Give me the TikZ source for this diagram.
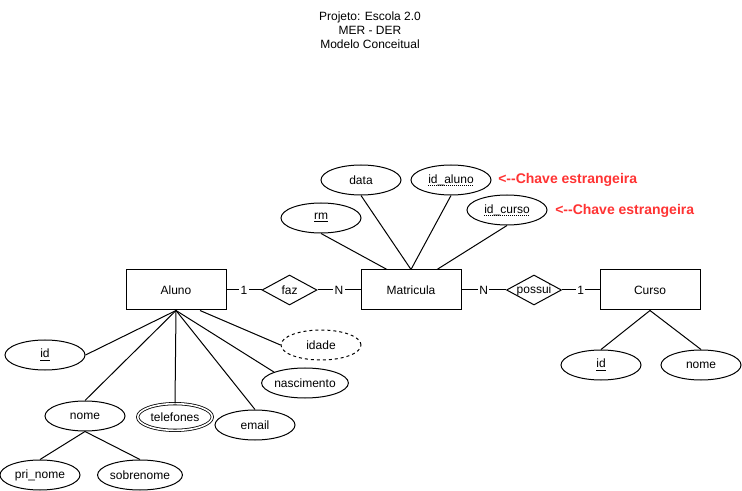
\documentclass[tikz,border=0pt]{standalone}
\usepackage{fontspec}
\setmainfont{Liberation Sans}
\usetikzlibrary{shapes.geometric,calc}
\definecolor{erInk}{HTML}{000000}
\definecolor{erRed}{HTML}{FF3333}
\tikzset{
  entity/.style  ={draw=erInk,line width=0.75pt,minimum width=75pt,
                   minimum height=30pt,inner sep=0pt},
  attr/.style    ={ellipse,draw=erInk,line width=0.75pt,minimum width=60pt,
                   minimum height=22.5pt,inner sep=0pt},
  derived/.style ={attr,dash pattern=on 2.25pt off 2.25pt},
  multi/.style   ={attr,double,double distance=1.2pt,line width=0.6pt,
                   minimum width=56pt,minimum height=20pt},
  rel/.style     ={diamond,draw=erInk,line width=0.75pt,minimum width=41.25pt,
                   minimum height=22.5pt,inner sep=0pt},
  link/.style    ={erInk,line width=0.75pt},
  card/.style    ={fill=white,inner sep=1pt},
  note/.style    ={font=\fontsize{10.5}{12}\selectfont\bfseries,text=erRed,
                   anchor=west,inner sep=0pt},
  ghost/.style   ={inner sep=0pt},
  fkline/.style  ={erInk,line width=0.75pt,dash pattern=on 0.75pt off 0.75pt},
}

\begin{document}
\begin{tikzpicture}[x=0.75pt,y=-0.75pt,font=\fontsize{9}{10.5}\selectfont]
\useasboundingbox (0,0) rectangle (742,491);

\node[align=center] (titulo) at (370,30) {Projeto: Escola 2.0\\MER - DER\\Modelo Conceitual};

% entidades e relacionamentos
\node[entity] (aluno)  at (176,290) {Aluno};
\node[rel]    (faz)    at (289.5,290) {\makebox[0pt]{faz}};
\node[entity] (matric) at (411,290) {Matricula};
\node[rel]    (possui) at (534,290) {\makebox[0pt]{possui}};
\node[entity] (curso)  at (650,290) {Curso};

\draw[link] (aluno) -- node[card]{1} (faz);
\draw[link] (faz) -- node[card]{N} (matric);
\draw[link] (matric) -- node[card]{N} (possui);
\draw[link] (possui) -- node[card]{1} (curso);

% atributos de Matricula
\node[attr] (data)    at (361,180) {data};
\node[attr] (idaluno) at (451,180) {id\_aluno};
\node[attr] (idcurso) at (507,210) {id\_curso};
\node[attr] (rm)      at (321,218) {\underline{rm}};
\node[note] (fk1) at (498,180) {<-{}-Chave estrangeira};
\node[note] (fk2) at (555,211) {<-{}-Chave estrangeira};

% chaves estrangeiras sublinhadas com pontos
\node[ghost] (idalunotxt) at (idaluno) {\phantom{id\_aluno}};
\node[ghost] (idcursotxt) at (idcurso) {\phantom{id\_curso}};
\draw[fkline] ($(idalunotxt.base west)+(0,2.5)$) -- ($(idalunotxt.base east)+(0,2.5)$);
\draw[fkline] ($(idcursotxt.base west)+(0,2.5)$) -- ($(idcursotxt.base east)+(0,2.5)$);

\draw[link] (data.south) -- (matric.north);
\draw[link] (idaluno.south) -- (matric.north);
\draw[link] (rm.south) -- ($(matric.north)+(-24,0)$);
\draw[link] (idcurso.south) -- ($(matric.north)+(26,0)$);

% atributos de Aluno
\node[attr]    (aid)       at (45,355)  {\underline{id}};
\node[derived] (idade)     at (321,345) {idade};
\node[attr]    (nasc)      at (305,383) {nascimento};
\node[attr]    (nome)      at (85,416)  {nome};
\node[multi]   (tel)       at (175,417) {telefones};
\node[attr]    (email)     at (255,425) {email};
\node[attr]    (prinome)   at (40,475)  {pri\_nome};
\node[attr]    (sobrenome) at (140,475) {sobrenome};

\draw[link] (aluno.south) -- (aid.east);
\draw[link] (aluno.south) -- (nome.north);
\draw[link] (aluno.south) -- (tel.north);
\draw[link] (aluno.south) -- (email.north);
\draw[link] (aluno.south) -- (nasc.north west);
\draw[link] ($(aluno.south)+(24,0)$) -- (idade.west);
\draw[link] (nome.south) -- (prinome.north);
\draw[link] (nome.south) -- (sobrenome.north);

% atributos de Curso
\node[attr] (cid)   at (601,365) {\underline{id}};
\node[attr] (cnome) at (701,365) {nome};

\draw[link] (curso.south) -- (cid.north);
\draw[link] (curso.south) -- (cnome.north);
\end{tikzpicture}
\end{document}
